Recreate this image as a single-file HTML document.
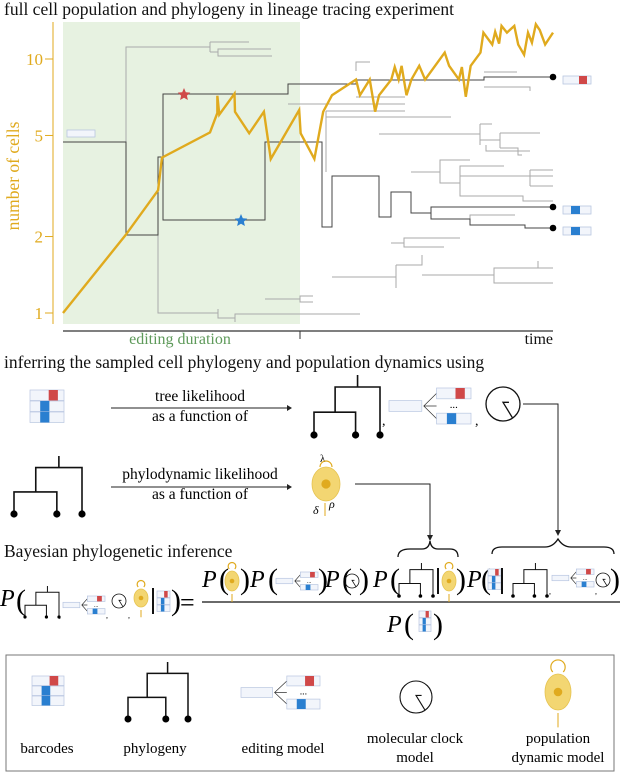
<!DOCTYPE html>
<html><head><meta charset="utf-8"><style>
html,body{margin:0;padding:0;background:#fff;}
svg{display:block;font-family:"Liberation Serif",serif;}
</style></head><body>
<svg id="fig" width="620" height="773" viewBox="0 0 620 773" xmlns="http://www.w3.org/2000/svg">
<text x="4" y="15" font-size="17.5" fill="#111">full cell population and phylogeny in lineage tracing experiment</text>
<rect x="63" y="22" width="237" height="302" fill="#e7f2e1"/>
<g id="tree" fill="none" stroke-width="1">
<path stroke="#aaa" d="M126,142V47H210M210,42V52M210,42H249M210,52H218V49H271M218,52V56H272M158,235V313H218M218,309V318H235V314H360M235,318V322M265,299H300V296H313M300,299V302H313M288,104H405M356,97H405M356,71V62H370M484,72H517M484,87H530V91M326,111V172M326,111H405M326,117H451M379,134H480M480,124V145M480,124H492M480,140H500M500,133V148M500,133H540M500,148H518V155H522M486,145V151H530M391,243H404V238H460M404,243V247H444M411,172H440V160H470M440,172V183H460V166H504M460,176H553M530,170V186M530,170H553M530,186H553M460,183V196H523V201H553M332,277H396V288M396,265V288M396,265H422V255M422,275H494V268H553M494,275V283H553M538,261V268M470,219V215H515"/>
<path stroke="#444" d="M63,142H126V235H158V157H163V94H288V84H356V80H484V77H553M163,94V220H265V142H322V227H332V176H379V217H391V192H411V213H431V207H553M431,213V219H470V225H525V228H553"/>
</g>
<path d="M184,88l1.8,4.2 4.5,.4-3.4,3 1,4.4-3.9-2.3-3.9,2.3 1-4.4-3.4-3 4.5-.4z" fill="#d04848"/>
<path d="M241,214l1.8,4.2 4.5,.4-3.4,3 1,4.4-3.9-2.3-3.9,2.3 1-4.4-3.4-3 4.5-.4z" fill="#2a7fd0"/>
<rect x="67" y="130" width="28" height="7" fill="#f2f5fb" stroke="#b8c6e0" stroke-width="0.8"/>
<g id="chart"></g>
<g>
<rect x="563" y="76" width="28" height="8" fill="#f2f5fb" stroke="#b8c6e0" stroke-width="0.8"/><rect x="579" y="76" width="8" height="8" fill="#d04848"/>
<rect x="563" y="206" width="28" height="8" fill="#f2f5fb" stroke="#b8c6e0" stroke-width="0.8"/><rect x="571" y="206" width="9" height="8" fill="#2a7fd0"/>
<rect x="563" y="227" width="28" height="8" fill="#f2f5fb" stroke="#b8c6e0" stroke-width="0.8"/><rect x="571" y="227" width="9" height="8" fill="#2a7fd0"/>
</g>
<g fill="#000"><circle cx="553" cy="77" r="3.3"/><circle cx="553" cy="207" r="3.3"/><circle cx="553" cy="228" r="3.3"/></g>
<line x1="63" y1="331" x2="553" y2="331" stroke="#333" stroke-width="1.2"/>
<line x1="300" y1="331" x2="300" y2="339" stroke="#333"/>
<text x="180" y="344" font-size="16" fill="#5e9a5a" text-anchor="middle">editing duration</text>
<text x="553" y="344" font-size="16" fill="#111" text-anchor="end">time</text>

<text x="4" y="368" font-size="17.5" fill="#111">inferring the sampled cell phylogeny and population dynamics using</text>
<g id="mid"></g>
<text x="200" y="401" font-size="15.5" text-anchor="middle">tree likelihood</text>
<text x="200" y="421" font-size="15.5" text-anchor="middle">as a function of</text>
<text x="200" y="479" font-size="15.5" text-anchor="middle">phylodynamic likelihood</text>
<text x="200" y="499" font-size="15.5" text-anchor="middle">as a function of</text>
<text x="4" y="557" font-size="17.5" fill="#111">Bayesian phylogenetic inference</text>
<rect x="6" y="655" width="608" height="116" fill="none" stroke="#777" stroke-width="1"/>
<g id="eq"></g>
<g id="legend"></g>
<text x="47" y="753" font-size="15" text-anchor="middle">barcodes</text>
<text x="155" y="753" font-size="15" text-anchor="middle">phylogeny</text>
<text x="283" y="753" font-size="15" text-anchor="middle">editing model</text>
<text x="415" y="743" font-size="15" text-anchor="middle">molecular clock</text>
<text x="415" y="762" font-size="15" text-anchor="middle">model</text>
<text x="558" y="743" font-size="15" text-anchor="middle">population</text>
<text x="558" y="762" font-size="15" text-anchor="middle">dynamic model</text>
</svg>
<script>
const times=[0,1.28,1.94,2.02,3.0,3.15,3.15,3.19,3.5,3.51,3.8,4.1,4.24,4.82,4.85,5.13,5.31,5.49,5.98,6.06,6.26,6.37,6.45,6.7,6.77,6.85,6.91,7.01,7.11,7.27,7.39,7.79,7.88,8.08,8.14,8.22,8.32,8.52,8.58,8.76,8.82,8.9,8.95,9.06,9.21,9.29,9.41,9.49,9.57,9.65,9.73,9.84,10.0];
const counts=[1,2.03,3.04,4.09,5.14,6.13,7.17,6.04,7.3,6.2,5.1,6.2,4.04,6.3,5.1,4.04,6.2,7.2,8.3,7.2,8.3,6.2,7.2,8.3,9.3,8.3,9.4,7.2,8.3,9.4,8.3,10.6,9.4,8.3,9.3,7.1,9.4,10.6,12.7,11.4,12.8,11.5,13.5,12.7,13.5,11.4,10.4,12.7,11.6,13.7,13.0,11.4,12.7];
const yTicks=[1,2,5,10];
const NS="http://www.w3.org/2000/svg";
function xS(t){return 63+t*49;}
function yS(c){return 313-Math.log10(c)*254;}
function mk(parent,tag,attrs){const e=document.createElementNS(NS,tag);for(const k in attrs)e.setAttribute(k,attrs[k]);parent.appendChild(e);return e;}
const chart=document.getElementById('chart');
const orange="#e0aa1e";
const ax=mk(chart,'line',{x1:53,y1:22,x2:53,y2:324,stroke:orange,'stroke-width':1});


yTicks.forEach(v=>{
 const tk=mk(chart,'line',{x1:45,x2:53,y1:yS(v),y2:yS(v),stroke:orange,'stroke-width':1});
 
 
 const tl=mk(chart,'text',{x:43,y:yS(v)+6,'font-size':17,fill:orange,'text-anchor':'end'});
 tl.textContent=v;
 
 
});
const yt=mk(chart,'text',{x:0,y:0,'font-size':17.5,fill:orange,'text-anchor':'middle',transform:'translate(19,176) rotate(-90)'});
yt.textContent='number of cells';


const pl=mk(chart,'polyline',{points:times.map((t,i)=>xS(t)+','+yS(counts[i])).join(' '),fill:'none',stroke:orange,'stroke-width':2.4,'stroke-linejoin':'miter'});



function barcodeStack(p,x,y,w,h){
 const g=mk(p,'g',{});
 
 
 for(let i=0;i<3;i++){mk(g,'rect',{x:x,y:y+i*h,width:w,height:h-0.5,fill:'#f2f5fb',stroke:'#b8c6e0','stroke-width':0.7});}
 mk(g,'rect',{x:x+w*0.55,y:y,width:w*0.27,height:h-0.5,fill:'#d04848'});
 mk(g,'rect',{x:x+w*0.3,y:y+h,width:w*0.27,height:h-0.5,fill:'#2a7fd0'});
 mk(g,'rect',{x:x+w*0.3,y:y+2*h,width:w*0.27,height:h-0.5,fill:'#2a7fd0'});
 return g;
}
function treeIcon(p,x,y,w,h,sw,r){
 const g=mk(p,'g',{});
 
 
 const a=x+w*0.32,c=x+w,l=x,m=x+w*0.63,top=y,j1=y+h*0.2,j2=y+h*0.62,bot=y+h;
 mk(g,'path',{d:`M${(a+c)/2},${top}V${j1}M${a},${j2}V${j1}H${c}V${bot}M${l},${bot}V${j2}H${m}V${bot}`,fill:'none',stroke:'#111','stroke-width':sw});
 [l,m,c].forEach(cx=>mk(g,'circle',{cx:cx,cy:bot,r:r,fill:'#000'}));
 return g;
}
function clockIcon(p,cx,cy,r,sw){
 const g=mk(p,'g',{});
 
 
 mk(g,'circle',{cx:cx,cy:cy,r:r,fill:'none',stroke:'#111','stroke-width':sw});
 mk(g,'path',{d:`M${cx+r*0.35},${cy-r*0.1}H${cx}L${cx+r*0.55},${cy+r*0.8}`,fill:'none',stroke:'#111','stroke-width':sw});
 return g;
}
function cellIcon(p,cx,cy,rx,ry,arrows){
 const g=mk(p,'g',{});
 
 
 mk(g,'ellipse',{cx:cx,cy:cy,rx:rx,ry:ry,fill:'#f3d672',stroke:'#e6c350','stroke-width':0.8});
 mk(g,'circle',{cx:cx,cy:cy,r:rx*0.33,fill:'#e0aa1e'});
 if(arrows){
  mk(g,'path',{d:`M${cx-rx*0.4},${cy-ry-2}a${rx*0.55},${rx*0.55} 0 1 1 ${rx*0.8},0`,fill:'none',stroke:orange,'stroke-width':1.2});
  mk(g,'path',{d:`M${cx},${cy+ry+3}V${cy+ry+3+ry*0.8}`,fill:'none',stroke:orange,'stroke-width':1});
 }
 return g;
}
function editModel(p,x,y,w,h){
 const g=mk(p,'g',{});
 
 
 const rw=w*0.4,bh=h*0.3;
 mk(g,'rect',{x:x,y:y+h/2-bh/2,width:rw,height:bh,fill:'#f2f5fb',stroke:'#b8c6e0','stroke-width':0.7});
 const fx=x+rw+2,bx=x+w*0.58;
 mk(g,'path',{d:`M${bx},${y+bh/2}L${fx},${y+h/2}L${bx},${y+h-bh/2}M${fx},${y+h/2}H${bx}`,fill:'none',stroke:'#333','stroke-width':0.7});
 mk(g,'rect',{x:bx,y:y,width:w-(bx-x),height:bh,fill:'#f2f5fb',stroke:'#b8c6e0','stroke-width':0.7});
 mk(g,'rect',{x:bx+(w-(bx-x))*0.55,y:y,width:(w-(bx-x))*0.27,height:bh,fill:'#d04848'});
 mk(g,'rect',{x:bx,y:y+h-bh,width:w-(bx-x),height:bh,fill:'#f2f5fb',stroke:'#b8c6e0','stroke-width':0.7});
 mk(g,'rect',{x:bx+(w-(bx-x))*0.3,y:y+h-bh,width:(w-(bx-x))*0.27,height:bh,fill:'#2a7fd0'});
 const d=mk(g,'text',{x:bx+(w-(bx-x))/2,y:y+h/2+2,'font-size':Math.max(6,h*0.3),'text-anchor':'middle'});d.textContent='...';
 return g;
}
function txt(p,x,y,s,size,name,italic){
 const t=mk(p,'text',{x:x,y:y,'font-size':size,'font-style':italic?'italic':'normal'});
 t.textContent=s;
 
 
 return t;
}
const mid=document.getElementById('mid');
barcodeStack(mid,30,390,34,11);
treeIcon(mid,314,375,66,60,1.6,3.6);
editModel(mid,389,388,82,36);
clockIcon(mid,503,404,17,1.3);
treeIcon(mid,14,456,68,58,1.6,3.6);
cellIcon(mid,326,484,14,17,false);
txt(mid,382,425,',',14,'comma');
txt(mid,475,425,',',14,'comma');
txt(mid,320,462,'λ',11,'lambda-label');
mk(mid,'path',{d:'M320,467a6,6 0 1 1 12,0',fill:'none',stroke:orange,'stroke-width':1.2});
txt(mid,313,514,'δ',12,'delta-label',true);
txt(mid,329,508,'ρ',12,'rho-label',true);
mk(mid,'path',{d:'M325,503V516',stroke:orange,'stroke-width':1});
const arr=[["M111,408H287","tree-likelihood-arrow"],["M111,487H287","phylodynamic-arrow"],["M523,404H558V530","clock-to-posterior-arrow"],["M355,484H430V535","cell-to-posterior-arrow"]];
arr.forEach(a=>{const e=mk(mid,'path',{d:a[0],fill:'none',stroke:'#222','stroke-width':1});
 
 
});
mk(mid,'path',{d:'M287,405l5,3-5,3z',fill:'#222'});
mk(mid,'path',{d:'M287,484l5,3-5,3z',fill:'#222'});
mk(mid,'path',{d:'M555,530l3,6 3,-6z',fill:'#222'});
mk(mid,'path',{d:'M427,535l3,6 3,-6z',fill:'#222'});
const eq=document.getElementById('eq');
txt(eq,0,606,'P',24,'eq-p',true);
txt(eq,16,610,'(',30,'eq-paren');
treeIcon(eq,25,586,34,31,1,1.6);
txt(eq,59,618,',',8,'c');
editModel(eq,63,596,42,18);
txt(eq,106,618,',',8,'c');
clockIcon(eq,119,601,7,0.8);
txt(eq,128,618,',',8,'c');
cellIcon(eq,141,598,7,9,true);
mk(eq,'path',{d:'M153,588V614',stroke:'#111','stroke-width':2});
barcodeStack(eq,157,591,13,7);
txt(eq,171,610,')',30,'eq-paren');
txt(eq,180,611,'=',26,'eq-equals');
const fl=mk(eq,'line',{x1:202,y1:602,x2:620,y2:602,stroke:'#111','stroke-width':1.3});


txt(eq,202,587,'P',24,'eq-p',true);
txt(eq,219,589,'(',30,'eq-paren');
cellIcon(eq,232,581,7,10,true);
txt(eq,240,589,')',30,'eq-paren');
txt(eq,250,587,'P',24,'eq-p',true);
txt(eq,268,589,'(',30,'eq-paren');
editModel(eq,276,572,42,18);
txt(eq,318,589,')',30,'eq-paren');
txt(eq,325,587,'P',24,'eq-p',true);
txt(eq,342,589,'(',30,'eq-paren');
clockIcon(eq,352,581,7,0.8);
txt(eq,359,589,')',30,'eq-paren');
txt(eq,373,587,'P',24,'eq-p',true);
txt(eq,390,589,'(',30,'eq-paren');
treeIcon(eq,399,563,34,33,1,1.8);
mk(eq,'path',{d:'M438,568V594',stroke:'#111','stroke-width':2});
cellIcon(eq,449,581,7,10,true);
txt(eq,456,589,')',30,'eq-paren');
txt(eq,467,587,'P',24,'eq-p',true);
txt(eq,481,589,'(',30,'eq-paren');
barcodeStack(eq,488,569,13,7);
mk(eq,'path',{d:'M502,568V594',stroke:'#111','stroke-width':2});
treeIcon(eq,513,563,34,33,1,1.8);
txt(eq,549,594,',',8,'c');
editModel(eq,552,569,42,18);
txt(eq,595,594,',',8,'c');
clockIcon(eq,603,580,7,0.8);
txt(eq,610,589,')',30,'eq-paren');
txt(eq,387,632,'P',24,'eq-p',true);
txt(eq,404,634,'(',30,'eq-paren');
barcodeStack(eq,419,611,12,7);
txt(eq,433,634,')',30,'eq-paren');
const b1=mk(eq,'path',{d:'M398,557Q398,549 410,549H422Q429,549 430,541Q431,549 438,549H450Q458,549 458,557',fill:'none',stroke:'#111','stroke-width':1.3});


const b2=mk(eq,'path',{d:'M492,554Q492,547 502,547H545Q553,547 558,539Q563,547 571,547H604Q614,547 614,554',fill:'none',stroke:'#111','stroke-width':1.3});


const lg=document.getElementById('legend');
barcodeStack(lg,32,676,32,10);
treeIcon(lg,128,662,60,57,1.5,3.5);
editModel(lg,241,676,79,33);
clockIcon(lg,416,697,16,1.1);
cellIcon(lg,558,692,13,18,true);
</script>
</body></html>
